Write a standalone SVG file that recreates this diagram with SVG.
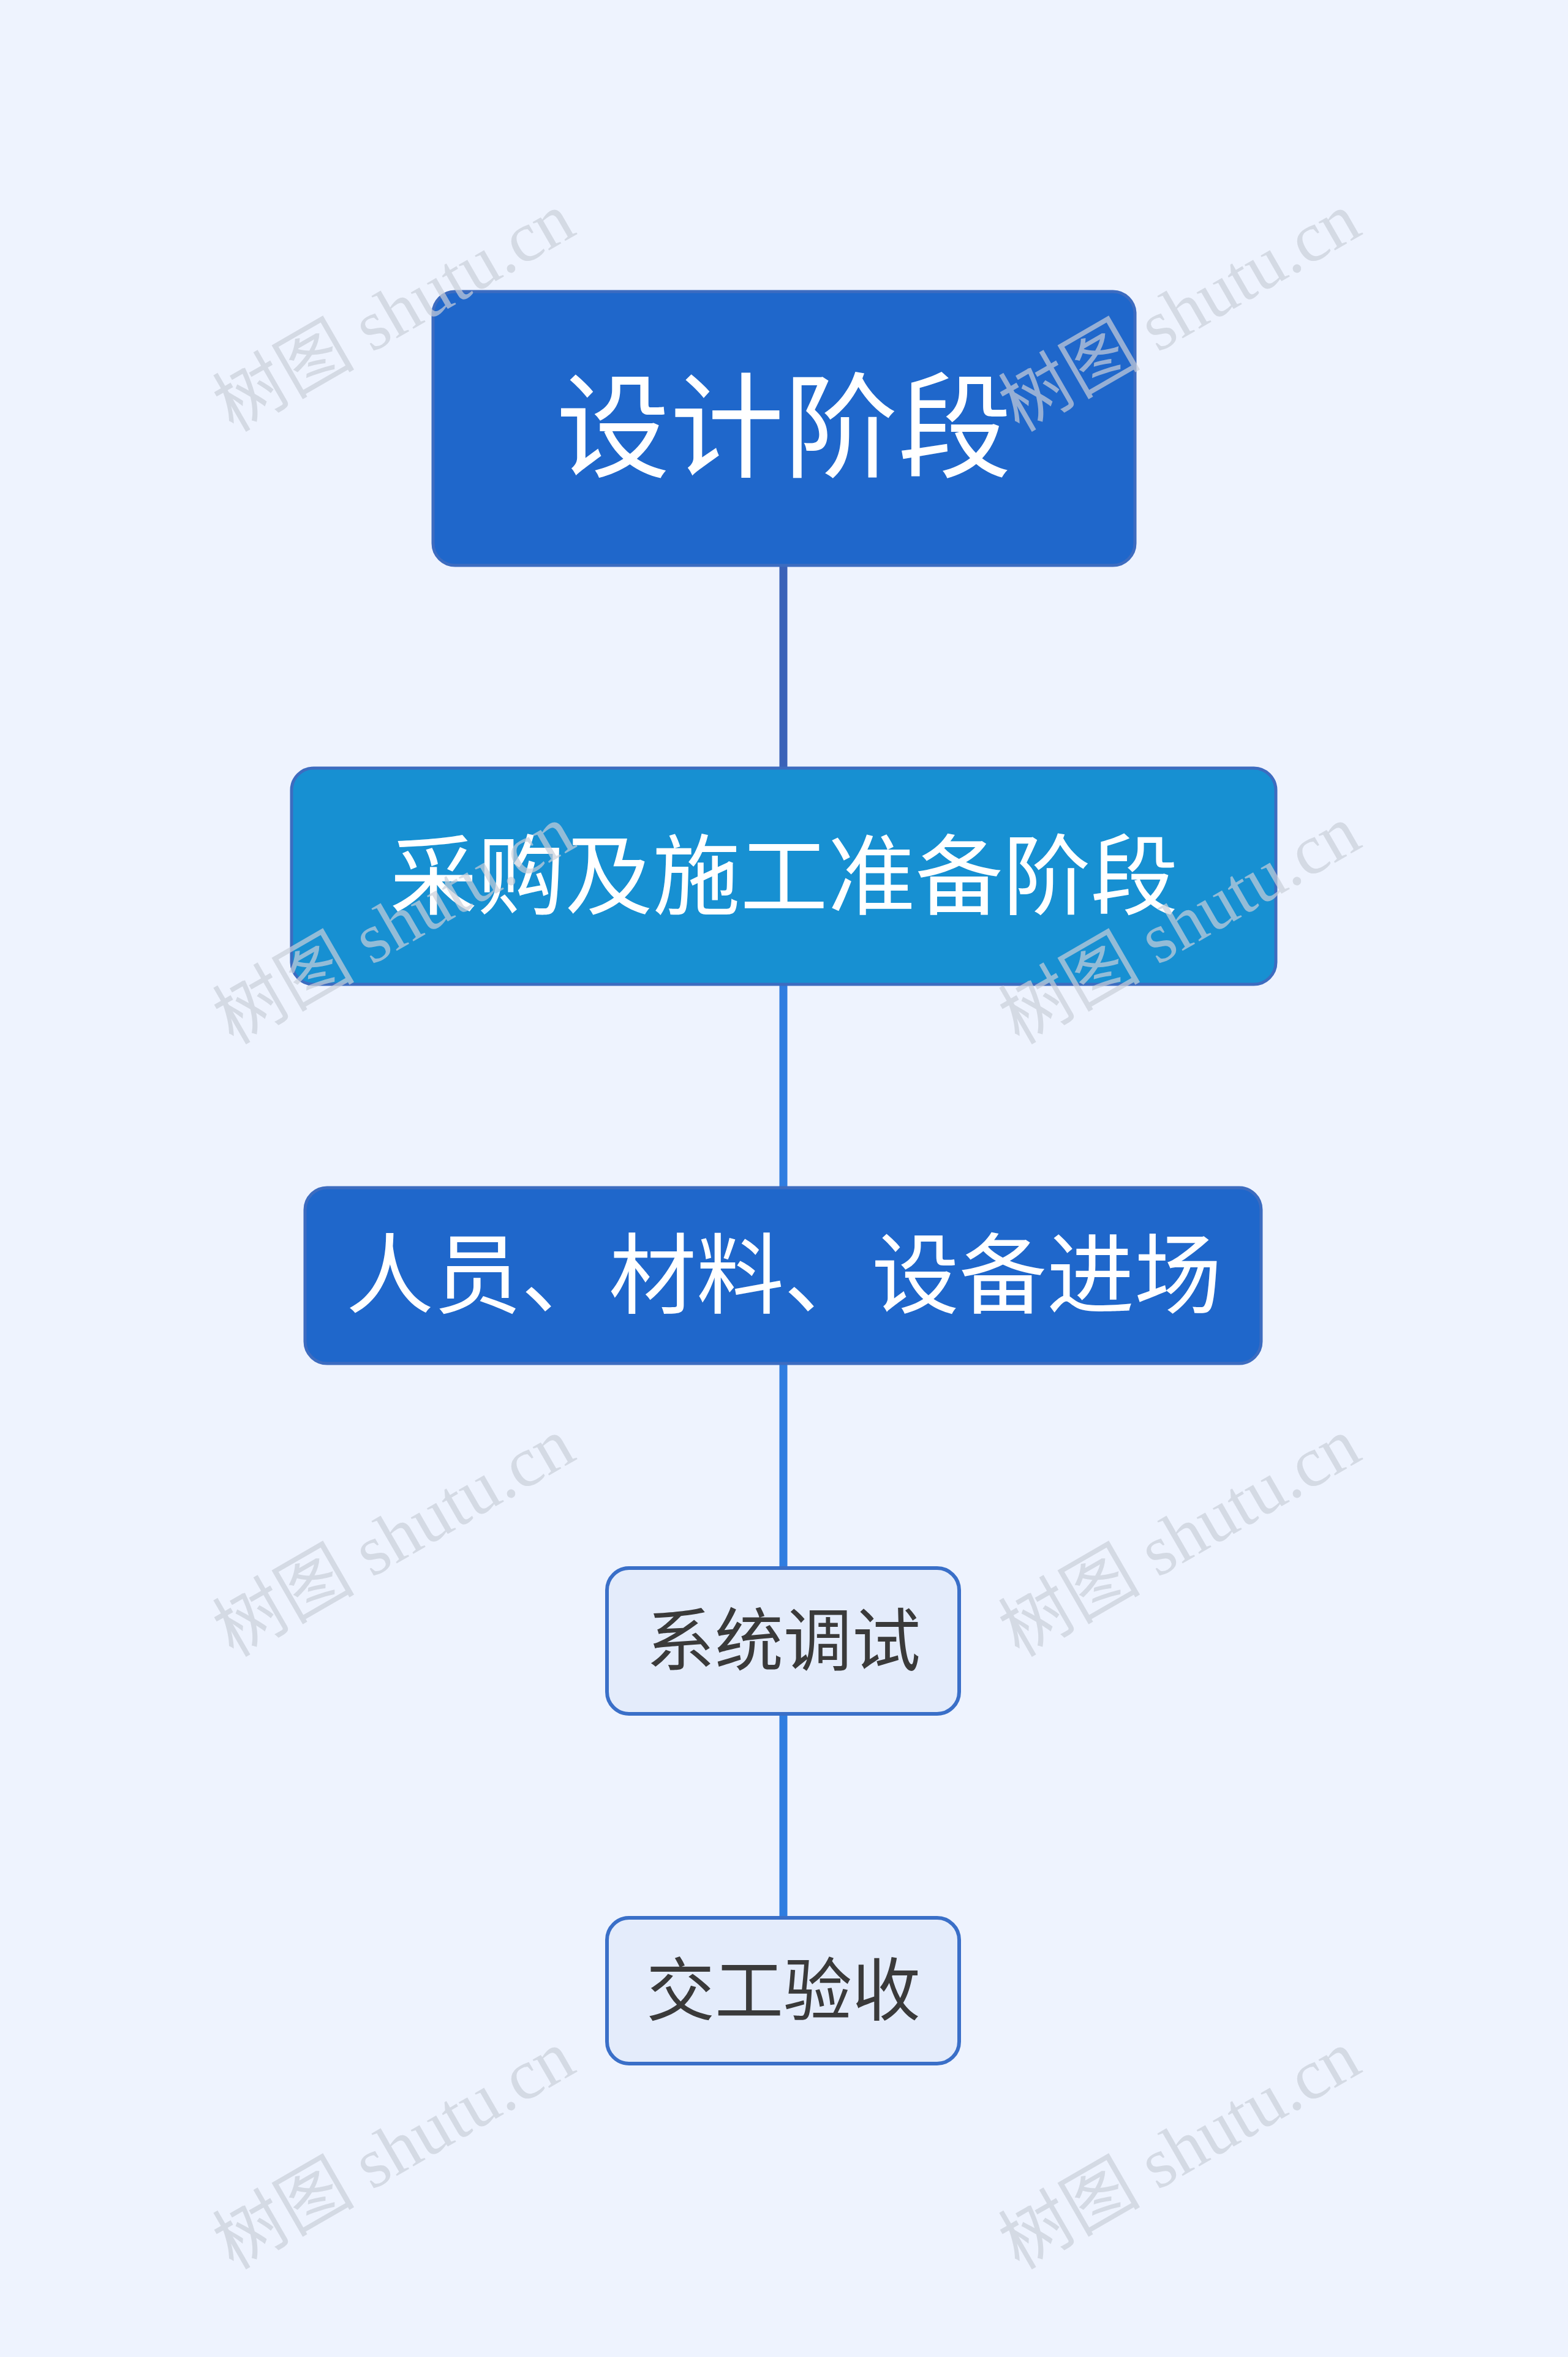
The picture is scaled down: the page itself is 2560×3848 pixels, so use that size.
<svg xmlns="http://www.w3.org/2000/svg" width="2560" height="3848" viewBox="0 0 2560 3848">
<style>
.t{font-family:"Liberation Sans","Noto Sans CJK SC",sans-serif;text-anchor:middle;dominant-baseline:central}
.w{font-family:"Liberation Serif","Noto Sans CJK SC",serif;font-size:116px;fill:#c9ced8;fill-opacity:0.7;text-anchor:middle;dominant-baseline:central}
.c{stroke:#2f7de0;stroke-width:13;fill:none}
</style>
<rect width="2560" height="3848" fill="#eef3fe"/>
<g id="connectors">
<line class="c" x1="1279" y1="923" x2="1279" y2="1254" style="stroke:#3a62b8"/>
<line class="c" x1="1279" y1="1607" x2="1279" y2="1939"/>
<line class="c" x1="1279" y1="2226" x2="1279" y2="2560"/>
<line class="c" x1="1279" y1="2798" x2="1279" y2="3131"/>
</g>
<g id="n1"><rect x="707" y="476" width="1146" height="447" rx="36" fill="#1f67cb" stroke="#3d6cc0" stroke-width="5"/><text class="t" x="1280" y="700" font-size="186" fill="#fff">设计阶段</text></g>
<g id="n2"><rect x="476" y="1254" width="1607" height="353" rx="36" fill="#1790d2" stroke="#3d6cc0" stroke-width="5"/><text class="t" x="1280" y="1432" font-size="143" fill="#fff">采购及施工准备阶段</text></g>
<g id="n3"><rect x="498" y="1939" width="1561" height="287" rx="36" fill="#1f67cb" stroke="#3d6cc0" stroke-width="5"/><text class="t" x="1280" y="2083" font-size="143" fill="#fff">人员、材料、设备进场</text></g>
<g id="n4"><rect x="991" y="2560" width="575" height="238" rx="36" fill="#e4ecfb" stroke="#3a6fc8" stroke-width="6"/><text class="t" x="1279" y="2680" font-size="112" fill="#3a3a3a">系统调试</text></g>
<g id="n5"><rect x="991" y="3131" width="575" height="238" rx="36" fill="#e4ecfb" stroke="#3a6fc8" stroke-width="6"/><text class="t" x="1279" y="3251" font-size="112" fill="#3a3a3a">交工验收</text></g>
<g id="watermarks">
<text class="w" transform="translate(643,510) rotate(-30)">树图 shutu.cn</text>
<text class="w" transform="translate(1926,510) rotate(-30)">树图 shutu.cn</text>
<text class="w" transform="translate(643,1510) rotate(-30)">树图 shutu.cn</text>
<text class="w" transform="translate(1926,1510) rotate(-30)">树图 shutu.cn</text>
<text class="w" transform="translate(643,2510) rotate(-30)">树图 shutu.cn</text>
<text class="w" transform="translate(1926,2510) rotate(-30)">树图 shutu.cn</text>
<text class="w" transform="translate(643,3510) rotate(-30)">树图 shutu.cn</text>
<text class="w" transform="translate(1926,3510) rotate(-30)">树图 shutu.cn</text>
</g>
</svg>
